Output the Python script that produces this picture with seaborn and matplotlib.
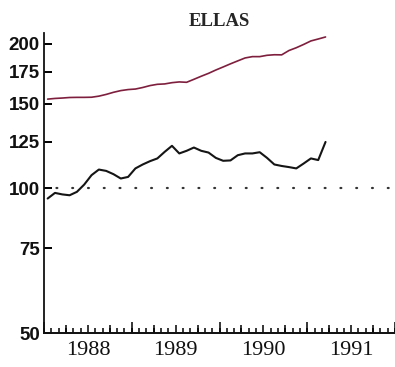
import numpy as np
import pandas as pd
import seaborn as sns
import matplotlib.pyplot as plt
from matplotlib.ticker import FixedLocator, NullFormatter

# monthly series, Jan 1988 .. Mar 1991
start_year = 1988
black_vals = [95.3, 97.9, 97.2, 96.8, 98.4, 101.9, 106.6, 109.5, 108.8, 107.1,
              104.9, 105.7, 110.1, 112.2, 114.0, 115.5, 119.2, 122.7, 118.3, 119.8,
              121.7, 119.8, 118.8, 115.8, 114.2, 114.4, 117.3, 118.3, 118.3, 119.0,
              115.8, 112.2, 111.4, 110.8, 110.1, 112.7, 115.5, 114.6, 125.0]
red_vals = [153.5, 154.0, 154.3, 154.7, 154.8, 154.8, 154.9, 155.7, 157.0, 158.6,
            159.9, 160.7, 161.1, 162.3, 163.8, 164.8, 165.1, 166.1, 166.7, 166.4,
            168.8, 171.3, 173.7, 176.5, 179.1, 181.8, 184.4, 187.0, 188.2, 188.2,
            189.4, 189.9, 189.8, 193.8, 196.4, 199.5, 202.9, 204.8, 206.8]
years = [1988, 1989, 1990, 1991]
y_ticks = [50, 75, 100, 125, 150, 175, 200]
title = "ELLAS"


def main() -> None:
    n = len(black_vals)
    t = start_year + (np.arange(n) + 0.5) / 12
    df = pd.DataFrame({"t": t, "black": black_vals, "red": red_vals})

    sns.set_style("ticks", {"xtick.direction": "in", "ytick.direction": "in"})
    fig = plt.figure(figsize=(3.95, 3.67), dpi=100)
    ax = fig.add_axes([0.1114, 0.0926, 0.8886, 0.817])

    sns.lineplot(data=df, x="t", y="red", ax=ax, color="#7e1f3e", linewidth=1.2)
    sns.lineplot(data=df, x="t", y="black", ax=ax, color="#151515", linewidth=1.5)
    ax.axhline(100, color="#333333", linewidth=1.6, linestyle=(1.5, (0.4, 6.7)),
               dash_capstyle="round")

    ax.set_yscale("log")
    ax.set_ylim(50, 210.6)
    ax.set_xlim(1988, 1992)
    ax.set_yticks(y_ticks, [str(v) for v in y_ticks],
                  fontdict={"family": "Liberation Sans", "weight": "bold", "size": 13.5})
    ax.set_yticks([], minor=True)

    # year labels at mid-year, ticks at months, quarters and years
    ax.xaxis.set_major_locator(FixedLocator([y + 0.5 for y in years]))
    ax.set_xticklabels([str(y) for y in years],
                       fontdict={"family": "Liberation Serif", "size": 16})
    ax.xaxis.set_minor_locator(FixedLocator([1988 + m / 12 for m in range(49)]))
    ax.xaxis.set_minor_formatter(NullFormatter())

    sec = ax.secondary_xaxis(0)
    sec.xaxis.set_major_locator(FixedLocator(list(range(1988, 1993))))
    sec.xaxis.set_minor_locator(FixedLocator([1988 + q / 4 for q in range(17)]))
    sec.xaxis.set_major_formatter(NullFormatter())
    sec.xaxis.set_minor_formatter(NullFormatter())

    ax.tick_params(axis="y", which="major", left=True, direction="in", length=5.5,
                   width=1.4, pad=3, color="#000000", labelcolor="#111111")
    ax.tick_params(axis="x", which="major", bottom=True, length=0, pad=6,
                   labelcolor="#111111")
    ax.tick_params(axis="x", which="minor", bottom=True, direction="in", length=3.5,
                   width=1.1, color="#000000")
    sec.tick_params(axis="x", which="major", bottom=True, direction="in", length=8,
                    width=1.1, color="#000000")
    sec.tick_params(axis="x", which="minor", bottom=True, direction="in", length=5.5,
                    width=1.1, color="#000000")
    sec.spines["bottom"].set_linewidth(1.3)

    ax.set_xlabel("")
    ax.set_ylabel("")
    ax.set_title(title, fontdict={"family": "Liberation Serif", "weight": "bold", "size": 13.5},
                 x=0.5, pad=5)
    sns.despine(ax=ax, top=True, right=True)
    for s in ("left", "bottom"):
        ax.spines[s].set_linewidth(1.3)
        ax.spines[s].set_color("#111111")

    fig.savefig("out.png", dpi=100)


if __name__ == "__main__":
    main()
